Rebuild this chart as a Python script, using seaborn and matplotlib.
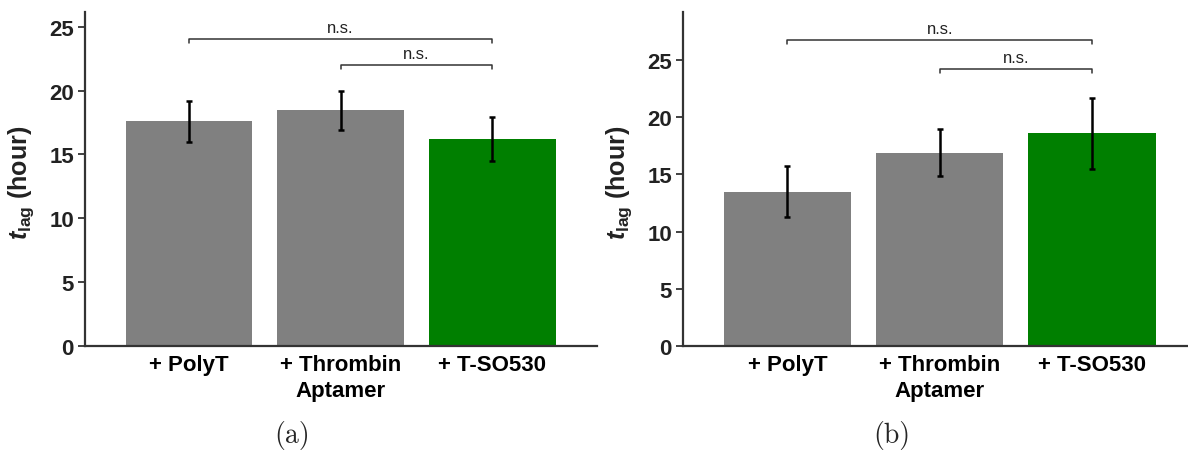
import matplotlib
matplotlib.use("Agg")
import matplotlib.pyplot as plt
import seaborn as sns
import pandas as pd

# Lag times (mean and standard deviation, hours) for the two experiments
categories = ["+ PolyT", "+ Thrombin\nAptamer", "+ T-SO530"]
lag_a = [17.6, 18.45, 16.2]
err_a = [1.6, 1.5, 1.75]
lag_b = [13.5, 16.9, 18.6]
err_b = [2.2, 2.05, 3.1]
bar_colors = ["#808080", "#808080", "#007f00"]

# significance brackets: (first bar, second bar, height, label)
brackets_a = [(0, 2, 24.0, "n.s."), (1, 2, 22.0, "n.s.")]
brackets_b = [(0, 2, 26.75, "n.s."), (1, 2, 24.2, "n.s.")]

sns.set_theme(style="ticks")
plt.rcParams["font.family"] = ["Liberation Sans", "DejaVu Sans"]
plt.rcParams["mathtext.fontset"] = "custom"
plt.rcParams["mathtext.it"] = "Liberation Sans:italic:bold"
plt.rcParams["mathtext.bf"] = "Liberation Sans:bold"
plt.rcParams["mathtext.rm"] = "Liberation Sans:bold"

W, H = 1188, 452
fig = plt.figure(figsize=(W / 100, H / 100), dpi=100)
ax_a = fig.add_axes([85 / W, 1 - 347 / H, (597 - 85) / W, (347 - 13) / H])
ax_b = fig.add_axes([683 / W, 1 - 347 / H, (W - 683) / W, (347 - 13) / H])


def draw_panel(ax, values, errors, brackets, ymax, xmax, ticks, width_px):
    df = pd.DataFrame({"group": categories, "lag": values})
    sns.barplot(data=df, x="group", y="lag", hue="group", palette=bar_colors,
                width=0.835, errorbar=None, legend=False, saturation=1,
                linewidth=0, ax=ax)
    ax.errorbar(range(len(values)), values, yerr=errors, fmt="none",
                ecolor="black", elinewidth=1.8, capsize=2.2, capthick=1.8,
                zorder=5)
    for i, j, h, label in brackets:
        tip = ymax * 0.012
        ax.plot([i, i, j, j], [h - tip, h, h, h - tip], color="#333333",
                lw=1.1, clip_on=False)
        ax.text((i + j) / 2, h + ymax * 0.012, label, ha="center", va="bottom",
                fontsize=12, color="#222222",
                fontfamily=["Liberation Sans", "DejaVu Sans"])
    ax.set_xlim(-0.685, xmax)
    ax.set_ylim(0, ymax)
    ax.set_yticks(ticks)
    ax.set_xlabel("")
    ax.set_ylabel(r"$\mathit{t}_{\mathbf{lag}}$ (hour)", fontsize=18,
                  fontweight="bold", color="#222222")
    ax.yaxis.set_label_coords(-49 / width_px, 0.49)
    for lbl in ax.get_yticklabels():
        lbl.set_fontweight("bold")
        lbl.set_fontsize(16)
        lbl.set_color("#222222")
    for lbl in ax.get_xticklabels():
        lbl.set_fontweight("bold")
        lbl.set_fontsize(16)
        lbl.set_color("black")
        lbl.set_linespacing(1.3)
    ax.tick_params(axis="x", length=0, pad=6)
    ax.tick_params(axis="y", length=5, width=1.3, color="#333333", pad=3)
    sns.despine(ax=ax)
    for side in ("left", "bottom"):
        ax.spines[side].set_color("#333333")
        ax.spines[side].set_linewidth(1.6)


draw_panel(ax_a, lag_a, err_a, brackets_a, 26.15, 2.69,
           [0, 5, 10, 15, 20, 25], 597 - 85)
draw_panel(ax_b, lag_b, err_b, brackets_b, 29.2, 2.63,
           [0, 5, 10, 15, 20, 25], W - 683)

fig.text(292 / W, 1 - 436 / H, "(a)", ha="center", va="center",
         fontsize=20, fontfamily="cmr10")
fig.text(892 / W, 1 - 436 / H, "(b)", ha="center", va="center",
         fontsize=20, fontfamily="cmr10")

fig.savefig("out.png", dpi=100)
